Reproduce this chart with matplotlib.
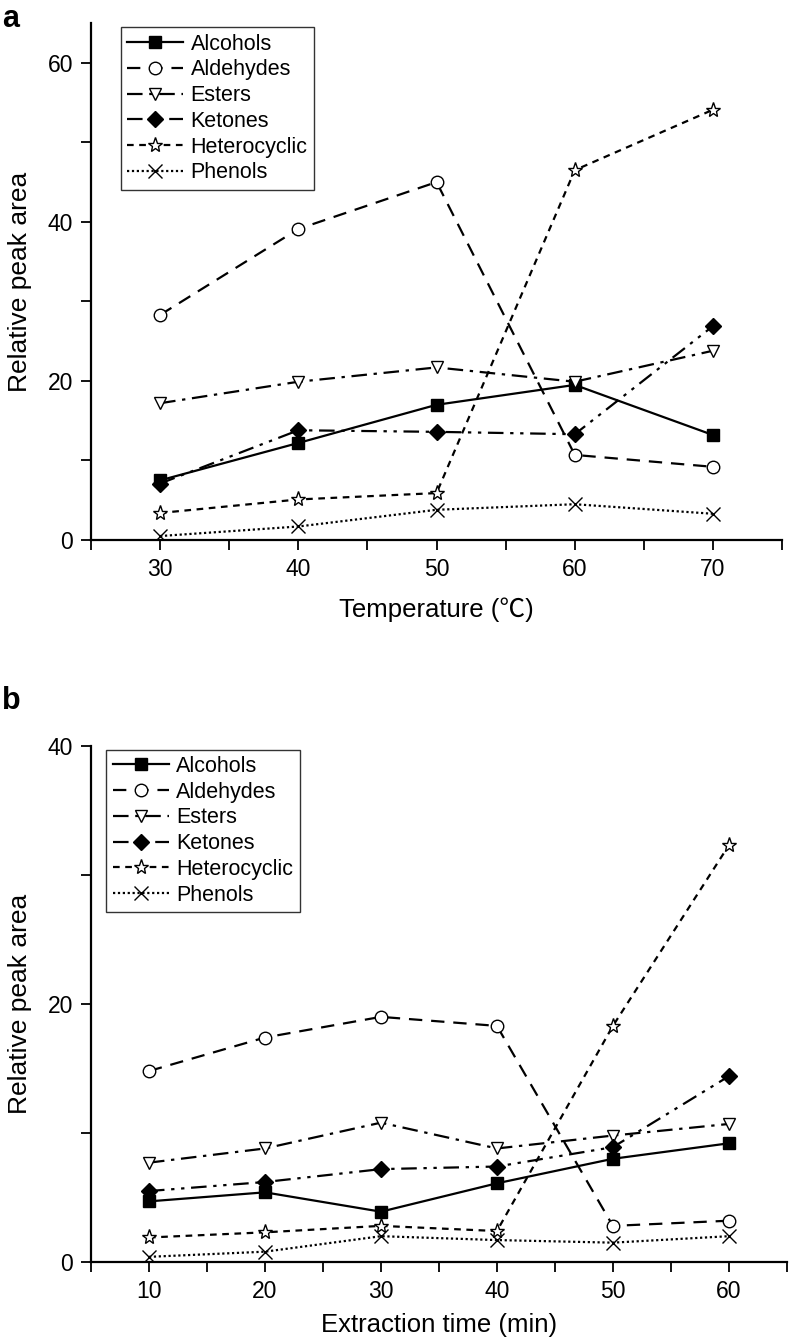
import matplotlib
matplotlib.use("Agg")
import matplotlib.pyplot as plt
from matplotlib.ticker import MultipleLocator

plt.rcParams['font.family'] = ['Liberation Sans', 'DejaVu Sans']

# panel a: temperature
temp = [30, 40, 50, 60, 70]
a_alcohols = [7.5, 12.2, 17.0, 19.5, 13.2]
a_aldehydes = [28.3, 39.1, 45.0, 10.7, 9.2]
a_esters = [17.2, 19.9, 21.7, 19.9, 23.8]
a_ketones = [7.1, 13.8, 13.6, 13.3, 26.9]
a_hetero = [3.4, 5.1, 5.9, 46.5, 54.1]
a_phenols = [0.5, 1.7, 3.8, 4.5, 3.3]

# panel b: extraction time
ext_time = [10, 20, 30, 40, 50, 60]
b_alcohols = [4.7, 5.4, 3.9, 6.1, 8.0, 9.2]
b_aldehydes = [14.8, 17.4, 19.0, 18.3, 2.8, 3.2]
b_esters = [7.7, 8.8, 10.8, 8.8, 9.8, 10.7]
b_ketones = [5.5, 6.2, 7.2, 7.4, 8.9, 14.4]
b_hetero = [1.9, 2.3, 2.8, 2.4, 18.3, 32.3]
b_phenols = [0.4, 0.8, 2.0, 1.7, 1.5, 2.0]

names = ['Alcohols', 'Aldehydes', 'Esters', 'Ketones', 'Heterocyclic', 'Phenols']
styles = [
    dict(ls='-', marker='s', mfc='black'),
    dict(ls=(0, (6, 4)), marker='o', mfc='white'),
    dict(ls=(0, (7, 3, 1.5, 3)), marker='v', mfc='white'),
    dict(ls=(0, (7, 3, 1.5, 3, 1.5, 3)), marker='D', mfc='black'),
    dict(ls=(0, (3, 2.5)), marker='*', mfc='white'),
    dict(ls=(0, (1, 1.2)), marker='x', mfc='white'),
]
msizes = [8, 9, 9, 8, 11, 10]

fig = plt.figure(figsize=(7.89, 13.38), dpi=100)
axA = fig.add_axes([0.1153, 0.5964, 0.876, 0.3864])
axB = fig.add_axes([0.1153, 0.0568, 0.882, 0.3857])


def draw(ax, x, series, xlabel, xlim, ylim, xmaj, ymaj, leg_anchor, xpad):
    for name, ys, st, ms in zip(names, series, styles, msizes):
        ax.plot(x, ys, color='black', lw=1.6, ls=st['ls'], marker=st['marker'],
                mfc=st['mfc'], mec='black', ms=ms, mew=1.0, label=name)
    ax.set_xlim(*xlim)
    ax.set_ylim(*ylim)
    ax.xaxis.set_major_locator(MultipleLocator(xmaj))
    ax.xaxis.set_minor_locator(MultipleLocator(xmaj / 2))
    ax.yaxis.set_major_locator(MultipleLocator(ymaj))
    ax.yaxis.set_minor_locator(MultipleLocator(ymaj / 2))
    ax.spines['top'].set_visible(False)
    ax.spines['right'].set_visible(False)
    ax.spines['left'].set_linewidth(1.6)
    ax.spines['bottom'].set_linewidth(1.6)
    ax.tick_params(which='both', direction='out', length=7, width=1.3,
                   labelsize=16.5, pad=6)
    ax.set_xlabel(xlabel, fontsize=18.5, labelpad=xpad,
                  family=['Liberation Sans', 'Noto Sans CJK SC'])
    ax.set_ylabel('Relative peak area', fontsize=19, labelpad=11)
    leg = ax.legend(loc='upper left', bbox_to_anchor=leg_anchor, fontsize=15.5,
                    frameon=True, fancybox=False, edgecolor='black',
                    handlelength=2.6, handletextpad=0.35, labelspacing=0.22,
                    borderpad=0.3, borderaxespad=0)
    leg.get_frame().set_linewidth(1.0)


draw(axA, temp, [a_alcohols, a_aldehydes, a_esters, a_ketones, a_hetero, a_phenols],
     'Temperature (℃)', (25, 75), (0, 65), 10, 20, (0.043, 0.992), 12)
draw(axB, ext_time, [b_alcohols, b_aldehydes, b_esters, b_ketones, b_hetero, b_phenols],
     'Extraction time (min)', (5, 65), (0, 40), 10, 20, (0.022, 0.993), 7)

fig.text(0.003, 0.997, 'a', fontsize=22, fontweight='bold', va='top', ha='left')
fig.text(0.003, 0.487, 'b', fontsize=22, fontweight='bold', va='top', ha='left')

fig.savefig('out.png', dpi=100)
